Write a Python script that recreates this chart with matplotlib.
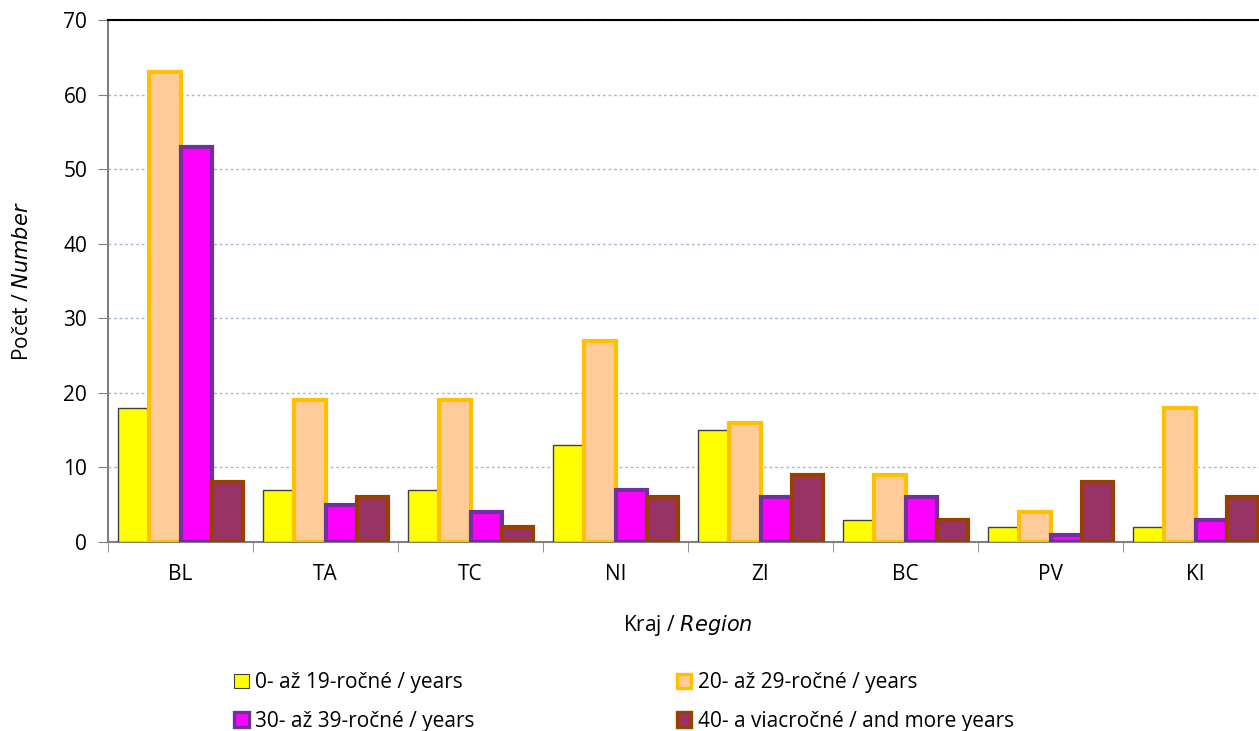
import matplotlib
matplotlib.use("Agg")
import matplotlib.pyplot as plt
import numpy as np
from matplotlib.patches import Patch

regions = ["BL", "TA", "TC", "NI", "ZI", "BC", "PV", "KI"]
age_0_19 = [18, 7, 7, 13, 15, 3, 2, 2]
age_20_29 = [63, 19, 19, 27, 16, 9, 4, 18]
age_30_39 = [53, 5, 4, 7, 6, 6, 1, 3]
age_40_plus = [8, 6, 2, 6, 9, 3, 8, 6]
series_labels = [
    "0- až 19-ročné / years",
    "20- až 29-ročné / years",
    "30- až 39-ročné / years",
    "40- a viacročné / and more years",
]

fills = ["#FFFF00", "#FFCC99", "#FF00FF", "#993366"]
edges = ["#404040", "#FFC000", "#7030A0", "#994000"]
lws = [1.0, 3.0, 3.0, 3.0]

plt.rcParams["font.family"] = ["Open Sans", "DejaVu Sans"]

fig = plt.figure(figsize=(12.59, 7.31), dpi=100)
ax = fig.add_axes([108 / 1259, 1 - 542 / 731, 1160 / 1259, 522 / 731])

x = np.arange(len(regions))
w = 0.215
series = [age_0_19, age_20_29, age_30_39, age_40_plus]
for i, vals in enumerate(series):
    ax.bar(x + (i - 1.5) * w, vals, width=w, color=fills[i], edgecolor=edges[i],
           linewidth=lws[i], zorder=3)

ax.set_xlim(-0.5, len(regions) - 0.5)
ax.set_ylim(0, 70)
ax.set_yticks(range(0, 71, 10))
ax.set_xticks(x)
ax.set_xticklabels(regions)
ax.set_xticks(np.arange(-0.5, len(regions)), minor=True)
ax.tick_params(axis="x", which="major", length=0, pad=16, labelsize=15)
ax.tick_params(axis="x", which="minor", length=7, color="#808080")
ax.tick_params(axis="y", length=7, color="#808080", labelsize=15, pad=8)

ax.grid(axis="y", color="#A6B8D8", linestyle=(0, (2, 2)), linewidth=1, zorder=0)
ax.set_axisbelow(True)

for s in ["left", "bottom"]:
    ax.spines[s].set_color("#808080")
    ax.spines[s].set_linewidth(1.5)
ax.spines["right"].set_visible(False)
ax.spines["top"].set_color("black")
ax.spines["top"].set_linewidth(1.5)

ax.set_ylabel("Počet / $\\it{Number}$", fontsize=15, labelpad=22)
ax.set_xlabel("Kraj / $\\it{Region}$", fontsize=15, labelpad=20)

# matplotlib fills legend columns first, so reorder for row-wise layout
order = [0, 2, 1, 3]
handles = [Patch(facecolor=fills[i], edgecolor=edges[i], linewidth=lws[i] * 0.8)
           for i in order]
labels = [series_labels[i] for i in order]
fig.legend(handles, labels, loc="upper left", bbox_to_anchor=(226 / 1259, 1 - 664 / 731),
           ncol=2, frameon=False, fontsize=15, handlelength=0.7, handleheight=0.7,
           handletextpad=0.3, columnspacing=9.7, labelspacing=0.85, borderaxespad=0)

fig.savefig("out.png", dpi=100)
